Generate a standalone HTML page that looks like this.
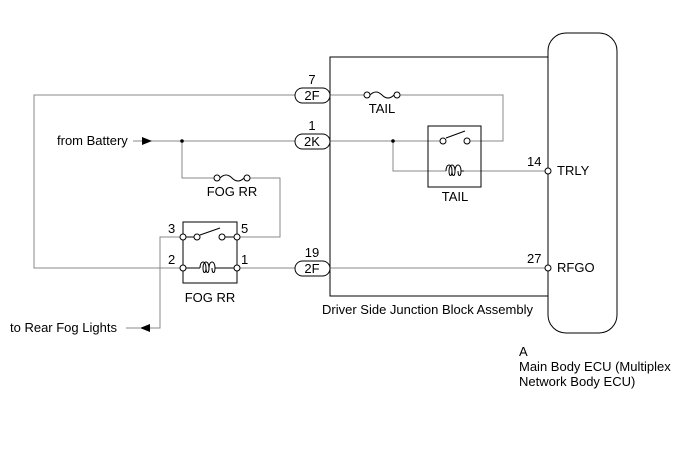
<!DOCTYPE html>
<html><head><meta charset="utf-8"><style>
html,body{margin:0;padding:0;background:#fff;}
svg{display:block;}
text{font-family:"Liberation Sans",Arial,sans-serif;font-size:13px;fill:#000;}
</style></head><body>
<svg width="691" height="465" viewBox="0 0 691 465" xmlns="http://www.w3.org/2000/svg">
<g fill="none" stroke="#888" stroke-width="1">
  <polyline points="295,95 34,95 34,268 183,268"/>
  <line x1="330" y1="95" x2="364" y2="95"/>
  <polyline points="400,95 503,95 503,141 470,141"/>
  <line x1="133" y1="141" x2="295" y2="141"/>
  <line x1="330" y1="141" x2="440" y2="141"/>
  <polyline points="182,141 182,178 214,178"/>
  <polyline points="250,178 280,178 280,237 240,237"/>
  <polyline points="393,141 393,171 446,171"/>
  <line x1="464" y1="171" x2="545" y2="171"/>
  <line x1="240" y1="268" x2="295" y2="268"/>
  <line x1="330" y1="268" x2="545" y2="268"/>
  <polyline points="180,237 160,237 160,328 150,328"/>
  <line x1="126" y1="328" x2="140" y2="328"/>
</g>
<g fill="none" stroke="#000" stroke-width="1">
  <circle cx="367" cy="95" r="3" fill="#fff"/><circle cx="397" cy="95" r="3" fill="#fff"/>
  <path d="M370,95 Q376,89 382,95 Q388,101 394,95"/>
  <circle cx="217" cy="178" r="3" fill="#fff"/><circle cx="247" cy="178" r="3" fill="#fff"/>
  <path d="M220,178 Q226,172 232,178 Q238,184 244,178"/>
  <rect x="330" y="57" width="218" height="239"/>
  <rect x="548" y="33" width="69" height="300" rx="18" fill="#fff"/>
  <rect x="295" y="88" width="35" height="15" rx="7.5" fill="#fff"/>
  <rect x="295" y="134" width="35" height="15" rx="7.5" fill="#fff"/>
  <rect x="295" y="261" width="35" height="15" rx="7.5" fill="#fff"/>
  <rect x="183" y="222" width="54" height="61"/>
  <line x1="186" y1="237" x2="194" y2="237"/>
  <line x1="200" y1="235" x2="220" y2="228"/>
  <line x1="225" y1="237" x2="234" y2="237"/>
  <line x1="186" y1="268" x2="200" y2="268"/>
  <line x1="218" y1="268" x2="234" y2="268"/>
  <path d="M200,268 C200,260 206,260 206,268 C206,274 203,274 203,268 C203,260 209,260 209,268 C209,274 206,274 206,268 M209,268 C209,260 215,260 215,268 C215,274 212,274 212,268 M215,268 L218,268"/>
  <circle cx="183" cy="237" r="3" fill="#fff"/><circle cx="197" cy="237" r="3" fill="#fff"/>
  <circle cx="222" cy="237" r="3" fill="#fff"/><circle cx="237" cy="237" r="3" fill="#fff"/>
  <circle cx="183" cy="268" r="3" fill="#fff"/><circle cx="237" cy="268" r="3" fill="#fff"/>
  <rect x="428" y="126" width="53" height="61"/>
  <line x1="446" y1="138" x2="465" y2="131"/>
  <path d="M446,171 C446,163 452,163 452,171 C452,177 449,177 449,171 C449,163 455,163 455,171 C455,177 452,177 452,171 M455,171 C455,163 461,163 461,171 C461,177 458,177 458,171 M461,171 L464,171"/>
  <circle cx="443" cy="141" r="3" fill="#fff"/><circle cx="467" cy="141" r="3" fill="#fff"/>
  <circle cx="548" cy="171" r="3" fill="#fff"/><circle cx="548" cy="268" r="3" fill="#fff"/>
</g>
<circle cx="182" cy="141" r="1.8" fill="#000"/>
<circle cx="393" cy="141" r="1.8" fill="#000"/>
<polygon points="142,137 152,141 142,145" fill="#000"/>
<polygon points="150,324 140,328 150,332" fill="#000"/>
<text x="312" y="100" text-anchor="middle">2F</text>
<text x="312" y="146" text-anchor="middle">2K</text>
<text x="312" y="273" text-anchor="middle">2F</text>
<text x="312" y="84" text-anchor="middle">7</text>
<text x="312" y="130" text-anchor="middle">1</text>
<text x="312" y="257" text-anchor="middle">19</text>
<text x="382" y="113" text-anchor="middle">TAIL</text>
<text x="455" y="201" text-anchor="middle">TAIL</text>
<text x="232" y="196" text-anchor="middle">FOG RR</text>
<text x="210" y="302" text-anchor="middle">FOG RR</text>
<text x="57" y="145">from Battery</text>
<text x="10" y="332">to Rear Fog Lights</text>
<text x="168" y="233">3</text>
<text x="241" y="233">5</text>
<text x="168" y="264">2</text>
<text x="241" y="264">1</text>
<text x="527" y="166">14</text>
<text x="527" y="263">27</text>
<text x="557" y="175">TRLY</text>
<text x="557" y="272">RFGO</text>
<text x="322" y="314">Driver Side Junction Block Assembly</text>
<text x="519" y="356">A</text>
<text x="519" y="371">Main Body ECU (Multiplex</text>
<text x="519" y="386">Network Body ECU)</text>
</svg>
</body></html>
